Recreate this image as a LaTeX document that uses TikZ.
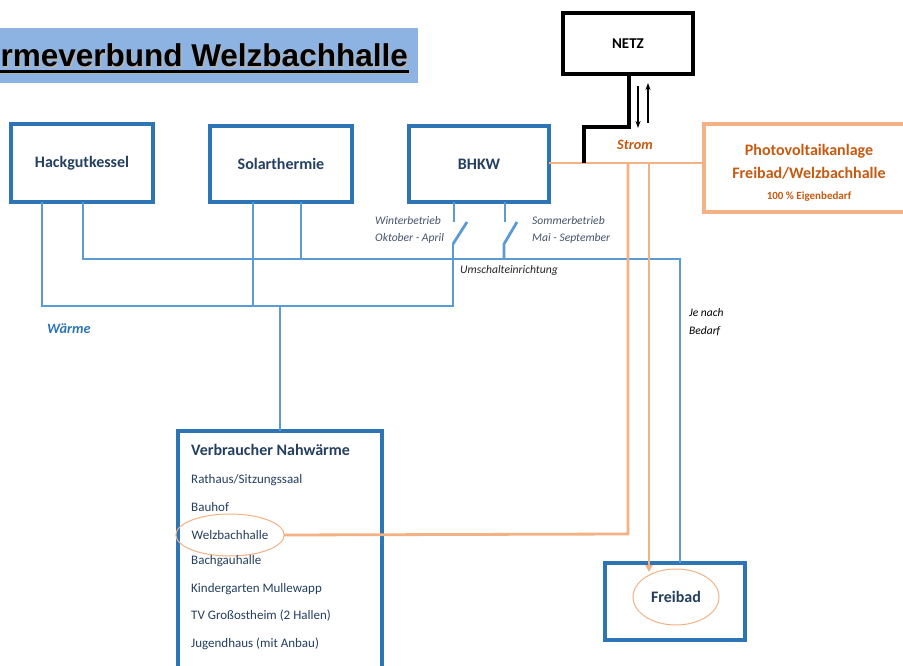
\documentclass[tikz,border=0pt]{standalone}
\usepackage{fontspec}
\setmainfont{Carlito}
\newfontfamily\titlefont{Liberation Sans}
\usetikzlibrary{shapes.geometric,arrows.meta,calc}
\definecolor{boxblue}{RGB}{46,117,182}
\definecolor{lineblue}{RGB}{91,155,213}
\definecolor{orangeline}{RGB}{244,177,131}
\definecolor{pvtext}{RGB}{197,90,17}
\definecolor{navy}{RGB}{36,63,96}
\definecolor{labelgray}{RGB}{68,84,106}
\definecolor{titlefill}{RGB}{141,179,226}
\begin{document}
\begin{tikzpicture}[x=1pt,y=-1pt,
  box/.style={draw=boxblue, line width=3.5pt, fill=white, inner sep=0pt, outer sep=0pt,
    font=\bfseries\fontsize{16}{18}\selectfont, text=navy},
  bl/.style={draw=lineblue, line width=2.8pt},
  ol/.style={draw=orangeline, line width=2.8pt},
  blk/.style={draw=black, line width=3.2pt},
  lbl/.style={font=\itshape\fontsize{11.6}{13}\selectfont, text=labelgray, inner sep=0pt, anchor=west},
  item/.style={font=\fontsize{13}{15}\selectfont, text=navy, inner sep=0pt, anchor=west},
  pvt/.style={font=\bfseries\fontsize{16}{18}\selectfont, text=pvtext, inner sep=0pt},
  ell/.style={ellipse, draw=orangeline, line width=1pt, inner sep=0pt, outer sep=0pt}]
\useasboundingbox (0,0) rectangle (903,666);
% title
\fill[titlefill] (0,28) rectangle (418,83);
\node[anchor=base east, inner sep=0pt, text=black!30, font=\titlefont\bfseries\fontsize{31.5}{34}\selectfont] (titleshadow) at (409.5,68.5) {rmeverbund Welzbachhalle};
\fill[black!30] (0,71.5) rectangle (410,74.5);
\node[anchor=base east, inner sep=0pt, font=\titlefont\bfseries\fontsize{31.5}{34}\selectfont] (title) at (408,67) {rmeverbund Welzbachhalle};
\fill[black] (0,70) rectangle (408.5,73);
% boxes
\node[box, minimum width=142pt, minimum height=78pt] (hack) at (82,163) {Hackgutkessel};
\node[box, minimum width=142pt, minimum height=76pt] (solar) at (281,164) {Solarthermie};
\node[box, minimum width=140pt, minimum height=76pt] (bhkw) at (479,164) {BHKW};
\node[box, draw=black, text=black, font=\bfseries\fontsize{15}{17}\selectfont, minimum width=130pt, minimum height=61pt] (netz) at (628,43.5) {NETZ};
\node[box, draw=orangeline, minimum width=210pt, minimum height=88pt] (pv) at (809,168) {};
\node[pvt] (pv1) at (809,151) {Photovoltaikanlage};
\node[pvt] (pv2) at (809,173) {Freibad/Welzbachhalle};
\node[pvt, font=\bfseries\fontsize{11}{13}\selectfont] (pv3) at (809,197) {100 \% Eigenbedarf};
\node[box, minimum width=204pt, minimum height=260pt] (verb) at (280,561) {};
\node[box, minimum width=140pt, minimum height=77pt] (freibad) at (675,601.5) {};
\node[ell, minimum width=86pt, minimum height=56pt, font=\bfseries\fontsize{16}{18}\selectfont, text=navy] (fbell) at (676,597) {Freibad};
% list
\node[item, font=\bfseries\fontsize{16}{18}\selectfont] (vtitle) at (191,450) {Verbraucher Nahwärme};
\node[item] (i1) at (191,480) {Rathaus/Sitzungssaal};
\node[item] (i2) at (191,507) {Bauhof};
\node[ell, minimum width=102pt, minimum height=42pt, font=\fontsize{13}{15}\selectfont, text=navy] (welz) at (230,535) {Welzbachhalle};
\node[item] (i4) at (191,561) {Bachgauhalle};
\node[item] (i5) at (191,589) {Kindergarten Mullewapp};
\node[item] (i6) at (191,616) {TV Großostheim (2 Hallen)};
\node[item] (i7) at (191,644) {Jugendhaus (mit Anbau)};
% labels
\node[lbl] (winter1) at (375,221) {Winterbetrieb};
\node[lbl] (winter2) at (375,238) {Oktober - April};
\node[lbl] (sommer1) at (532,221) {Sommerbetrieb};
\node[lbl] (sommer2) at (532,238) {Mai - September};
\node[lbl, text=black!85] (umsch) at (460,270) {Umschalteinrichtung};
\node[lbl, text=black, font=\itshape\fontsize{11.5}{13}\selectfont] (je1) at (689,313) {Je nach};
\node[lbl, text=black, font=\itshape\fontsize{11.5}{13}\selectfont] (je2) at (689,331) {Bedarf};
\node[lbl, text=boxblue, font=\bfseries\itshape\fontsize{14.3}{16}\selectfont] (waerme) at (47,329) {Wärme};
\node[inner sep=0pt, text=pvtext, font=\bfseries\itshape\fontsize{14.3}{16}\selectfont] (strom) at (635,145) {Strom};
% junction coordinates
\coordinate (wL) at (42,306);
\coordinate (wR) at (453,306);
\coordinate (sL) at (83,259);
\coordinate (sR) at (680,259);
\coordinate (sol1) at (253,306);
\coordinate (sol2) at (301,259);
\coordinate (trunk) at (280,306);
\coordinate (w1) at (454,222);
\coordinate (w2) at (467,222);
\coordinate (w3) at (453,244);
\coordinate (s1) at (505,222);
\coordinate (s2) at (517,222);
\coordinate (s3) at (504,244);
% blue lines
\draw[bl] (hack.south -| wL) -- (wL) -- (wR) -- (w3);
\draw[bl] (hack.south -| sL) -- (sL) -- (sR) -- (sR |- freibad.north);
\draw[bl] (solar.south -| sol1) -- (sol1);
\draw[bl] (solar.south -| sol2) -- (sol2);
\draw[bl] (bhkw.south -| w1) -- (w1);
\draw[bl] (w2) -- (w3);
\draw[bl] (bhkw.south -| s1) -- (s1);
\draw[bl] (s2) -- (s3) -- (s3 |- sL);
\draw[bl] (trunk) -- (trunk |- verb.north);
% orange lines
\coordinate (o1) at (628,163);
\coordinate (o2) at (628,534);
\coordinate (o3) at (649,163);
\draw[ol] (bhkw.east |- o1) -- (pv.west |- o1);
\draw[ol] (o1) -- (o2) -- (welz.east);
\draw[ol, -{Triangle[length=7pt,width=7pt]}, shorten >=-3pt] (o3) -- (o3 |- fbell.north);
% black lines
\coordinate (b1) at (629,127);
\coordinate (b2) at (584,127);
\draw[blk] (netz.south -| b1) -- (b1) -- (b2) -- (b2 |- o1);
\coordinate (a1) at (638,86);
\coordinate (a2) at (638,128);
\coordinate (a3) at (648,123);
\coordinate (a4) at (648,83);
\draw[line width=1.3pt, -{Stealth[length=7pt,width=5pt]}] (a1) -- (a2);
\draw[line width=1.3pt, -{Stealth[length=7pt,width=5pt]}] (a3) -- (a4);
\end{tikzpicture}
\end{document}
